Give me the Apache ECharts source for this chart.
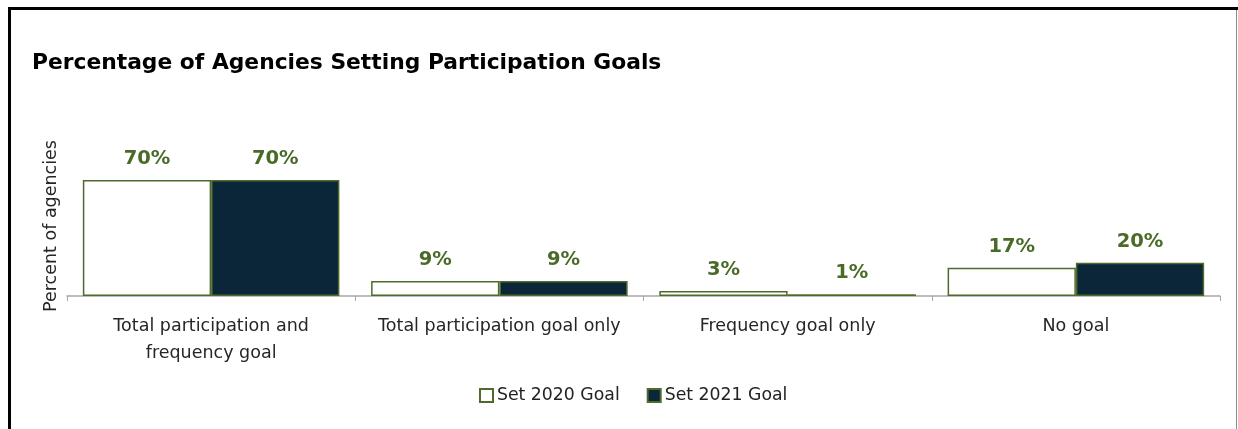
<!DOCTYPE html>
<html>
<head>
<meta charset="utf-8">
<script src="https://cdn.jsdelivr.net/npm/echarts@6/dist/echarts.min.js"></script>
<style>
  html, body { margin: 0; padding: 0; background: #ffffff; }
  #chart { width: 1238px; height: 429px; }
</style>
</head>
<body>
<div id="chart"></div>
<script>
// Goal-setting categories and shares of agencies (percent)
const categories = [
  'Total participation and\nfrequency goal',
  'Total participation goal only',
  'Frequency goal only',
  'No goal'
];
const seriesNames = ['Set 2020 Goal', 'Set 2021 Goal'];
const goals2020 = [70, 9, 3, 17];
const goals2021 = [70, 9, 1, 20];

const FONT = '"DejaVu Sans", "Open Sans", sans-serif';
const GREEN = '#4e6b2c';
const NAVY = '#0b2539';

const chart = echarts.init(document.getElementById('chart'), null, { renderer: 'canvas' });

const labelStyle = {
  show: true,
  position: 'top',
  distance: 11,
  formatter: p => p.value + '%',
  color: '#4a6a28',
  fontFamily: FONT,
  fontWeight: 'bold',
  fontSize: 19.5
};

chart.setOption({
  animation: false,
  backgroundColor: '#ffffff',
  title: {
    text: 'Percentage of Agencies Setting Participation Goals',
    left: 27,
    top: 47,
    textStyle: { fontFamily: FONT, fontWeight: 'bold', fontSize: 21.8, color: '#000000' }
  },
  graphic: [
    { type: 'line', shape: { x1: 8, y1: 8.5, x2: 1238, y2: 8.5 }, style: { stroke: '#000', lineWidth: 3 } },
    { type: 'line', shape: { x1: 9.5, y1: 7, x2: 9.5, y2: 429 }, style: { stroke: '#000', lineWidth: 3 } },
    { type: 'line', shape: { x1: 1236.5, y1: 10, x2: 1236.5, y2: 429 }, style: { stroke: '#8c8c8c', lineWidth: 1 } }
  ],
  legend: {
    data: seriesNames,
    bottom: 20,
    left: 474,
    itemWidth: 13,
    itemHeight: 13,
    itemGap: 27,
    icon: 'rect',
    textStyle: { fontFamily: FONT, fontSize: 17.3, color: '#222222', padding: [0, 0, 0, -1] }
  },
  grid: { left: 67, right: 18, top: 156, bottom: 133 },
  xAxis: {
    type: 'category',
    data: categories,
    axisLine: { lineStyle: { color: '#a6a6a6', width: 1.5 } },
    axisTick: { show: true, interval: 0, length: 5, lineStyle: { color: '#a6a6a6' } },
    axisLabel: {
      interval: 0,
      fontFamily: FONT, fontSize: 17.5, color: '#262626',
      margin: 17, lineHeight: 27
    }
  },
  yAxis: {
    type: 'value',
    min: 0,
    max: 84.5,
    name: 'Percent of agencies',
    nameLocation: 'middle',
    nameGap: 7,
    nameTextStyle: { fontFamily: FONT, fontSize: 17.5, color: '#262626' },
    axisLine: { show: false },
    axisTick: { show: false },
    axisLabel: { show: false },
    splitLine: { show: false }
  },
  series: [
    {
      name: seriesNames[0],
      type: 'bar',
      data: goals2020,
      barGap: 0,
      barCategoryGap: '11%',
      itemStyle: { color: '#ffffff', borderColor: GREEN, borderWidth: 1.5 },
      label: labelStyle
    },
    {
      name: seriesNames[1],
      type: 'bar',
      data: goals2021,
      barGap: 0,
      barCategoryGap: '11%',
      itemStyle: { color: NAVY, borderColor: GREEN, borderWidth: 1.5 },
      label: labelStyle
    }
  ]
});
</script>
</body>
</html>
